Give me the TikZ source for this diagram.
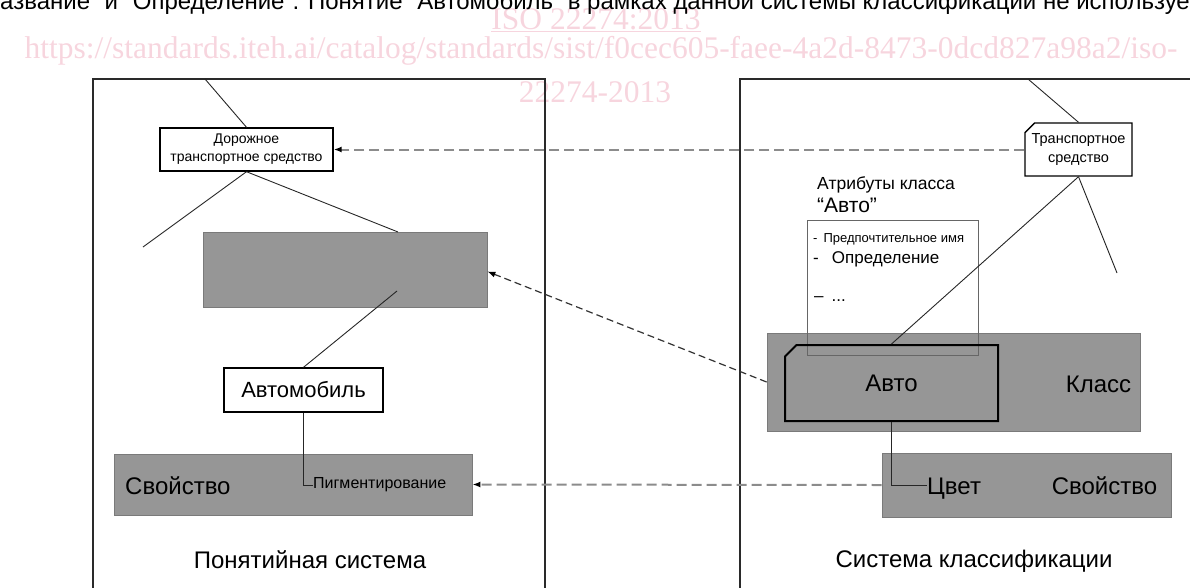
\documentclass[tikz,border=0pt]{standalone}
\usepackage{fontspec}
\setmainfont{Liberation Sans}
\newfontfamily\wmfont{Liberation Serif}
\usepackage{xcolor}
\usepackage{tikz}
\usetikzlibrary{arrows.meta, positioning, shapes.misc}
\definecolor{isogray}{HTML}{969696}
\definecolor{isoedge}{HTML}{7A7A7A}
\definecolor{isodash}{HTML}{8C8C8C}
\definecolor{isoframe}{HTML}{2A2A2A}
\definecolor{isopink}{HTML}{F7D5DE}
\newcommand{\pxfont}[2]{\fontsize{#1}{#2}\selectfont}

\begin{document}
\begin{tikzpicture}[
  x=1pt, y=-1pt,
  frame/.style={draw=isoframe, line width=1.8pt},
  concept/.style={rectangle, draw=black, line width=1.4pt, fill=white, align=center, inner sep=0pt},
  band/.style={rectangle, draw=isoedge, line width=0.8pt, fill=isogray, inner sep=0pt},
  clsbox/.style={chamfered rectangle, chamfered rectangle corners=north west,
    chamfered rectangle xsep=#1, draw=black, inner sep=0pt, align=center},
  label/.style={inner sep=0pt, font=\pxfont{24}{28}},
  link/.style={draw=black!85, line width=0.9pt},
  maps/.style={draw=isodash, line width=2pt, dash pattern=on 10pt off 5pt,
    -{Latex[length=8pt, width=6pt, black]}},
  mapsdark/.style={draw=black!80, line width=1.2pt, dash pattern=on 7pt off 4pt,
    -{Latex[length=8pt, width=6pt, black]}},
  watermark/.style={inner sep=0pt, text=isopink, font=\wmfont\pxfont{31.5}{34}},
]
  \clip (0,0) rectangle (1190,587);

  \node[watermark] (isoref) at (596,20) {\underline{ISO 22274:2013}};
  \node[watermark] (isourl) at (601,51) {https://standards.iteh.ai/catalog/standards/sist/f0cec605-faee-4a2d-8473-0dcd827a98a2/iso-};
  \node[watermark] (isoid) at (595,92) {22274-2013};

  \node[inner sep=0pt, anchor=base east, font=\pxfont{24}{28}] (note) at (1190,9.5)
    {“Название” и “Определение”. Понятие “Автомобиль” в рамках данной системы классификации не используе\rlap{тся.}};

  % frames
  \draw[frame] (93,600) -- (93,79) -- (545,79) -- (545,600);
  \draw[frame] (740,600) -- (740,79) -- (1200,79);

  % concept system
  \node[concept, minimum width=173pt, minimum height=43pt, font=\pxfont{14}{18}] (road) at (246.5,149.5) {Дорожное\\транспортное средство};
  \node[band, minimum width=284pt, minimum height=75pt] (hidden) at (345,269.5) {};
  \node[concept, minimum width=159pt, minimum height=44pt, font=\pxfont{22}{26}] (car) at (303.5,390) {Автомобиль};
  \node[band, minimum width=358pt, minimum height=61pt] (propL) at (293,484.5) {};
  \node[label, anchor=base west] (propLname) at (125,494.5) {Свойство};
  \node[inner sep=0pt, anchor=west, font=\pxfont{16}{18}] (pigment) at (313,485) {Пигментирование};
  \node[label, anchor=base] (conceptsys) at (310,568) {Понятийная система};

  \coordinate (topL) at (205,79);
  \coordinate (leafL) at (143,247);
  \coordinate (hidtop) at (398,232);
  \coordinate (hidin) at (397,291);
  \draw[link] (topL) -- (road.north);
  \draw[link] (road.south) -- (leafL);
  \draw[link] (road.south) -- (hidtop);
  \draw[link] (hidin) -- (car.north);
  \draw[link] (car.south) |- (pigment.west);

  % classification system
  \node[clsbox=6pt, line width=1.4pt, fill=white, minimum width=107pt, minimum height=53pt, font=\pxfont{14.5}{19}] (vehicle) at (1078.5,149.5) {Транспортное\\средство};
  \node[inner sep=0pt, anchor=base west, font=\pxfont{17.5}{21}] (attrhead) at (817,189) {Атрибуты класса};
  \node[inner sep=0pt, anchor=base west, font=\pxfont{21}{24}] (attrname) at (817,212.5) {“Авто”};
  \node[band, minimum width=373pt, minimum height=98pt] (classband) at (953.5,382) {};
  \node[draw=black!60, line width=1pt, inner sep=0pt, minimum width=171pt, minimum height=135pt] (attrs) at (892.5,287.5) {};
  \node[inner sep=0pt, anchor=base west, font=\pxfont{13}{15}] (prefname) at (813,242.5) {-\hspace{6pt}Предпочтительное имя};
  \node[inner sep=0pt, anchor=base west, font=\pxfont{17}{20}] (definition) at (813,263) {-\hspace{13pt}Определение};
  \node[inner sep=0pt, anchor=base west, font=\pxfont{17}{20}] (more) at (814,301) {–\hspace{8pt}...};
  \node[clsbox=8pt, line width=2pt, minimum width=213pt, minimum height=76pt, font=\pxfont{24}{28}] (auto) at (891.5,383) {Авто};
  \node[label, anchor=base] (classname) at (1098.5,392) {Класс};
  \node[band, minimum width=289pt, minimum height=64pt] (propR) at (1026.5,485) {};
  \node[label, anchor=base west] (colour) at (927,494) {Цвет};
  \node[label, anchor=base] (propRname) at (1104.5,494) {Свойство};
  \node[label, anchor=base] (classsys) at (974,567) {Система классификации};

  \coordinate (topR) at (1028,79);
  \coordinate (leafR) at (1117,273);
  \draw[link] (topR) -- (vehicle.north);
  \draw[link] (vehicle.south) -- (leafR);
  \draw[link] (vehicle.south) -- (auto.north);
  \draw[link] (auto.south) |- (colour.west |- propR.west);

  % correspondences
  \draw[maps] (vehicle.west) -- (road.east);
  \draw[mapsdark] (classband.west) -- ([yshift=-2pt]hidden.east);
  \draw[maps] (propR.west) -- (propL.east);
\end{tikzpicture}
\end{document}
